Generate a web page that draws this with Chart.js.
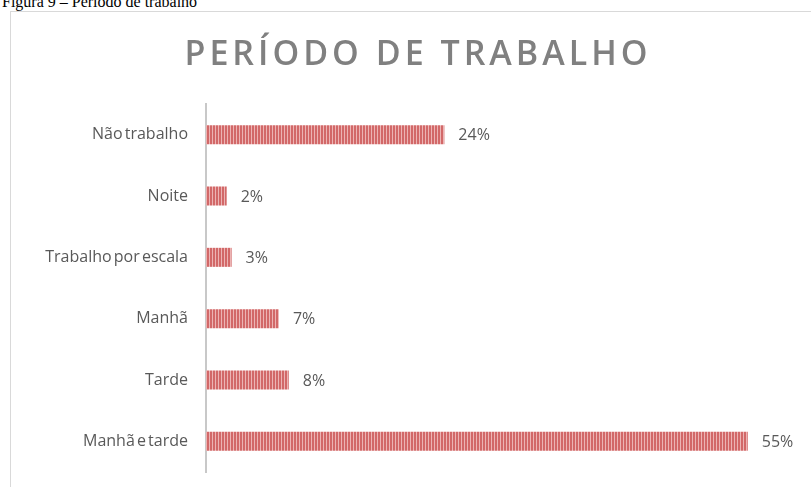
<!DOCTYPE html>
<html>
<head>
<meta charset="utf-8">
<script src="https://cdn.jsdelivr.net/npm/chart.js@4"></script>
<style>
  html, body { margin:0; padding:0; background:#fff; width:811px; height:487px; overflow:hidden; }
  #caption { position:absolute; left:2px; top:-6px; font-family:"Liberation Serif","Times New Roman",serif; font-size:16px; line-height:16px; color:#000; white-space:nowrap; }
  #box { position:absolute; left:10px; top:11px; width:820px; height:500px; border-left:1px solid #d9d9d9; border-top:1px solid #d9d9d9; }
  #wrap { position:absolute; left:0; top:0; width:811px; height:487px; }
</style>
</head>
<body>
<div id="caption">Figura 9 – Período de trabalho</div>
<div id="box"></div>
<div id="wrap"><canvas id="c" width="811" height="487"></canvas></div>
<script>
const chartTitle = "PERÍODO DE TRABALHO";
const categories = ["Não trabalho", "Noite", "Trabalho por escala", "Manhã", "Tarde", "Manhã e tarde"];
const values = [24.2, 2.1, 2.6, 7.4, 8.4, 55.0];
const valueLabels = ["24%", "2%", "3%", "7%", "8%", "55%"];

function stripePattern() {
  const p = document.createElement('canvas');
  p.width = 3; p.height = 4;
  const g = p.getContext('2d');
  g.fillStyle = '#d26868';
  g.fillRect(0, 0, 3, 4);
  g.fillStyle = '#ecb4b4';
  g.fillRect(2, 0, 1, 4);
  return g.createPattern(p, 'repeat');
}

const spacingPlugin = {
  id: 'tightWords',
  beforeDraw(chart) {
    try { chart.ctx.wordSpacing = '-2px'; } catch(e) {}
  }
};

const titlePlugin = {
  id: 'spacedTitle',
  afterDraw(chart) {
    const ctx = chart.ctx;
    ctx.save();
    ctx.font = '600 34px "Open Sans"';
    ctx.fillStyle = '#808080';
    ctx.textAlign = 'center';
    ctx.textBaseline = 'alphabetic';
    try { ctx.letterSpacing = '4px'; ctx.wordSpacing = '0px'; } catch(e) {}
    ctx.fillText(chartTitle, 418, 65);
    ctx.restore();
  }
};

const labelPlugin = {
  id: 'valueLabels',
  afterDatasetsDraw(chart) {
    const ctx = chart.ctx;
    const meta = chart.getDatasetMeta(0);
    ctx.save();
    ctx.font = '16px "Open Sans"';
    ctx.fillStyle = '#595959';
    ctx.textAlign = 'left';
    ctx.textBaseline = 'middle';
    meta.data.forEach((bar, i) => {
      ctx.fillText(valueLabels[i], bar.x + 14, bar.y + 1);
    });
    ctx.restore();
  }
};

new Chart(document.getElementById('c'), {
  type: 'bar',
  data: {
    labels: categories,
    datasets: [{
      data: values,
      backgroundColor: stripePattern(),
      borderWidth: 0,
      categoryPercentage: 1.0,
      barPercentage: 0.31
    }]
  },
  options: {
    indexAxis: 'y',
    responsive: false,
    animation: false,
    layout: { padding: { left: 0, right: 14, top: 104, bottom: 15 } },
    plugins: { legend: { display: false }, tooltip: { enabled: false }, title: { display: false } },
    scales: {
      x: { display: false, min: 0, max: 60 },
      y: {
        afterFit(scale) { scale.width = 206; scale.paddingTop = 0; scale.paddingBottom = 0; },
        grid: { display: false, drawTicks: false },
        border: { display: true, color: '#c8c8c8', width: 2 },
        ticks: { color: '#595959', font: { family: '"Open Sans"', size: 16 }, padding: 18 }
      }
    }
  },
  plugins: [spacingPlugin, titlePlugin, labelPlugin]
});
</script>
</body>
</html>
